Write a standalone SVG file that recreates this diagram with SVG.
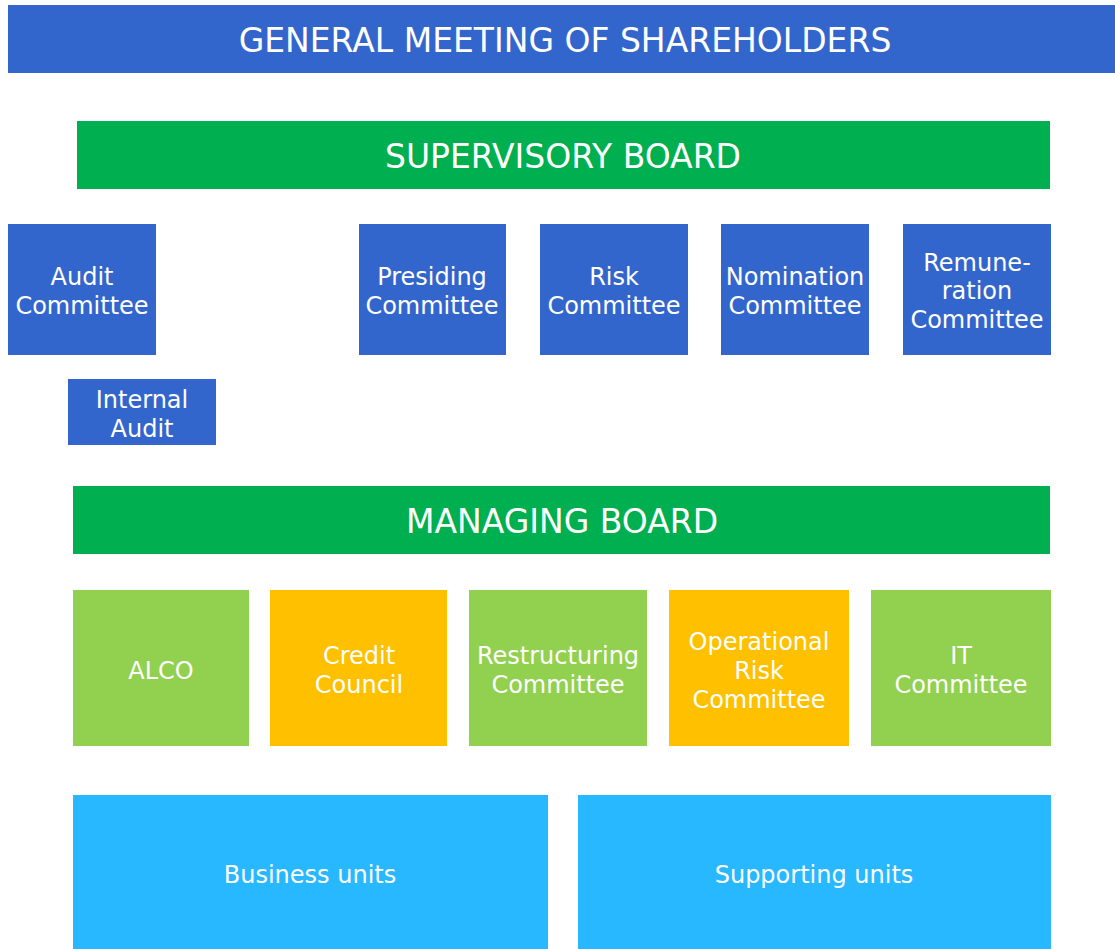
<svg xmlns="http://www.w3.org/2000/svg" width="1115" height="949" viewBox="0 0 1115 949">
<style>
.t{font-family:"DejaVu Sans",Verdana,sans-serif;fill:#fff;text-anchor:middle}
.b{font-size:33px}
.s{font-size:24px}
.blue{fill:#3366CC}
.dg{fill:#00AF50}
.lg{fill:#92D050}
.or{fill:#FFC000}
.lb{fill:#27B8FF}
</style>
<rect width="1115" height="949" fill="#fff"/>
<g id="general-meeting"><rect class="blue" x="8" y="5" width="1107" height="68"/><text class="t b" x="565" y="52">GENERAL MEETING OF SHAREHOLDERS</text></g>
<g id="supervisory-board"><rect class="dg" x="77" y="121" width="973" height="68"/><text class="t b" x="563" y="168">SUPERVISORY BOARD</text></g>
<g id="audit-committee"><rect class="blue" x="8" y="224" width="148" height="131"/><text class="t s" x="82" y="285">Audit</text><text class="t s" x="82" y="314">Committee</text></g>
<g id="presiding-committee"><rect class="blue" x="359" y="224" width="147" height="131"/><text class="t s" x="432" y="285">Presiding</text><text class="t s" x="432" y="314">Committee</text></g>
<g id="risk-committee"><rect class="blue" x="540" y="224" width="148" height="131"/><text class="t s" x="614" y="285">Risk</text><text class="t s" x="614" y="314">Committee</text></g>
<g id="nomination-committee"><rect class="blue" x="721" y="224" width="148" height="131"/><text class="t s" x="795" y="285">Nomination</text><text class="t s" x="795" y="314">Committee</text></g>
<g id="remuneration-committee"><rect class="blue" x="903" y="224" width="148" height="131"/><text class="t s" x="977" y="271">Remune-</text><text class="t s" x="977" y="299">ration</text><text class="t s" x="977" y="328">Committee</text></g>
<g id="internal-audit"><rect class="blue" x="68" y="379" width="148" height="66"/><text class="t s" x="142" y="408">Internal</text><text class="t s" x="142" y="437">Audit</text></g>
<g id="managing-board"><rect class="dg" x="73" y="486" width="977" height="68"/><text class="t b" x="562" y="533">MANAGING BOARD</text></g>
<g id="alco"><rect class="lg" x="73" y="590" width="176" height="156"/><text class="t s" x="161" y="679">ALCO</text></g>
<g id="credit-council"><rect class="or" x="270" y="590" width="177" height="156"/><text class="t s" x="359" y="664">Credit</text><text class="t s" x="359" y="693">Council</text></g>
<g id="restructuring-committee"><rect class="lg" x="469" y="590" width="178" height="156"/><text class="t s" x="558" y="664">Restructuring</text><text class="t s" x="558" y="693">Committee</text></g>
<g id="operational-risk-committee"><rect class="or" x="669" y="590" width="180" height="156"/><text class="t s" x="759" y="650">Operational</text><text class="t s" x="759" y="679">Risk</text><text class="t s" x="759" y="708">Committee</text></g>
<g id="it-committee"><rect class="lg" x="871" y="590" width="180" height="156"/><text class="t s" x="961" y="664">IT</text><text class="t s" x="961" y="693">Committee</text></g>
<g id="business-units"><rect class="lb" x="73" y="795" width="475" height="154"/><text class="t s" x="310" y="883">Business units</text></g>
<g id="supporting-units"><rect class="lb" x="578" y="795" width="473" height="154"/><text class="t s" x="814" y="883">Supporting units</text></g>
<g id="connectors"/>
</svg>
